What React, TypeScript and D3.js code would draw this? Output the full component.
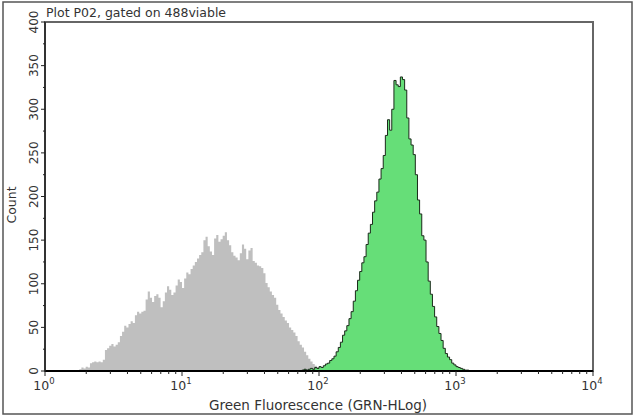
import * as d3 from "d3";

// histogram channels: 64 per decade, counts
const channelsPerDecade = 64;
const grayStart = 16;
const grayCounts = [
  2, 4, 3, 5, 4, 9, 10, 11, 10, 11, 10, 13, 24, 26, 29, 31, 28, 30, 33, 40,
  45, 52, 50, 54, 57, 55, 64, 68, 66, 68, 69, 82, 91, 84, 79, 86, 88, 84, 73, 80,
  90, 97, 93, 87, 90, 98, 105, 102, 95, 106, 113, 111, 117, 121, 125, 129, 133, 136, 150, 154,
  143, 137, 133, 152, 156, 148, 151, 155, 159, 150, 144, 136, 132, 130, 127, 135, 145, 140, 128, 138,
  141, 126, 124, 121, 120, 118, 112, 101, 96, 91, 87, 84, 76, 70, 66, 62, 58, 55, 50, 47,
  44, 40, 34, 30, 27, 22, 18, 14, 11, 8, 6, 4, 3, 2,
];
const greenStart = 120;
const greenCounts = [
  1, 2, 1, 2, 3, 2, 4, 3, 5, 4, 6, 8, 9, 12, 14, 17, 22, 27, 33, 41,
  46, 52, 60, 68, 80, 92, 104, 114, 124, 131, 145, 158, 168, 182, 195, 205, 220, 232, 247, 270,
  288, 276, 300, 333, 328, 326, 337, 334, 322, 290, 266, 259, 248, 225, 196, 180, 155, 150, 125, 103,
  88, 74, 62, 51, 43, 35, 26, 20, 16, 13, 9, 7, 5, 4, 3, 2, 1, 1, 0,
];
const yTicks = [0, 50, 100, 150, 200, 250, 300, 350, 400];
const decades = [0, 1, 2, 3, 4];

const title = "Plot P02, gated on 488viable";
const xTitle = "Green Fluorescence (GRN-HLog)";
const yTitle = "Count";

const W = 640;
const H = 418;
const plot = { left: 45, right: 593, top: 22, bottom: 371 };
const font = "'DejaVu Sans', Verdana, sans-serif";

type Bin = { v: number; c: number };

function toBins(start: number, counts: number[]): Bin[] {
  const bins = counts.map((c, i) => ({
    v: Math.pow(10, (start + i) / channelsPerDecade),
    c,
  }));
  bins.push({ v: Math.pow(10, (start + counts.length) / channelsPerDecade), c: 0 });
  return bins;
}

export default function App() {
  const x = d3.scaleLog().domain([1, 10000]).range([plot.left, plot.right]);
  const y = d3.scaleLinear().domain([0, 400]).range([plot.bottom, plot.top]);

  const area = d3
    .area<Bin>()
    .x((d) => x(d.v))
    .y0(y(0))
    .y1((d) => y(d.c))
    .curve(d3.curveStepAfter);
  const line = d3
    .line<Bin>()
    .x((d) => x(d.v))
    .y((d) => y(d.c))
    .curve(d3.curveStepAfter);

  const gray = toBins(grayStart, grayCounts);
  const green = toBins(greenStart, greenCounts);

  const minorY = d3.range(25, 400, 50);
  const minorX: number[] = [];
  for (let d = 0; d < 4; d++) {
    for (let k = 2; k <= 9; k++) minorX.push(k * Math.pow(10, d));
  }

  return (
    <svg
      width={W}
      height={H}
      style={{ position: "absolute", left: 0, top: 0, background: "#fff" }}
      fontFamily={font}
    >
      <rect x={3} y={2} width={629} height={412} fill="#fff" stroke="#555" strokeWidth={1.5} />

      <text x={46} y={17} fontSize={12.5} fill="#333">
        {title}
      </text>

      {/* plot frame */}
      <rect
        x={plot.left}
        y={plot.top}
        width={plot.right - plot.left}
        height={plot.bottom - plot.top}
        fill="#fff"
        stroke="#666"
        strokeWidth={2}
      />

      <path d={area(gray) ?? ""} fill="#bfbfbf" />
      <path d={area(green) ?? ""} fill="#66de78" />
      <path d={line(green) ?? ""} fill="none" stroke="#1a2a1a" strokeWidth={1} />

      {/* axes */}
      <line x1={plot.left} x2={plot.right} y1={plot.bottom} y2={plot.bottom} stroke="#000" strokeWidth={2} />
      <line x1={plot.left} x2={plot.left} y1={plot.top} y2={plot.bottom} stroke="#222" strokeWidth={1.5} />

      {yTicks.map((t) => (
        <g key={"y" + t}>
          <line x1={plot.left - 4} x2={plot.left} y1={y(t)} y2={y(t)} stroke="#222" />
          <text
            transform={`translate(${plot.left - 7},${y(t)}) rotate(-90)`}
            textAnchor="middle"
            fontSize={12}
            fill="#333"
          >
            {t}
          </text>
        </g>
      ))}
      {minorY.map((t) => (
        <line key={"my" + t} x1={plot.left - 2} x2={plot.left} y1={y(t)} y2={y(t)} stroke="#222" />
      ))}

      {decades.map((d) => (
        <g key={"x" + d}>
          <line
            x1={x(Math.pow(10, d))}
            x2={x(Math.pow(10, d))}
            y1={plot.bottom}
            y2={plot.bottom + 5}
            stroke="#222"
          />
          <text x={x(Math.pow(10, d)) - 1} y={390} textAnchor="middle" fontSize={12.5} fill="#333">
            10
            <tspan dy={-6} fontSize={8.5}>
              {d}
            </tspan>
          </text>
        </g>
      ))}
      {minorX.map((v) => (
        <line key={"mx" + v} x1={x(v)} x2={x(v)} y1={plot.bottom} y2={plot.bottom + 3} stroke="#222" />
      ))}

      <text x={318} y={410} textAnchor="middle" fontSize={13.5} fill="#333">
        {xTitle}
      </text>
      <text transform="translate(16,205) rotate(-90)" textAnchor="middle" fontSize={12.5} fill="#333">
        {yTitle}
      </text>
    </svg>
  );
}
